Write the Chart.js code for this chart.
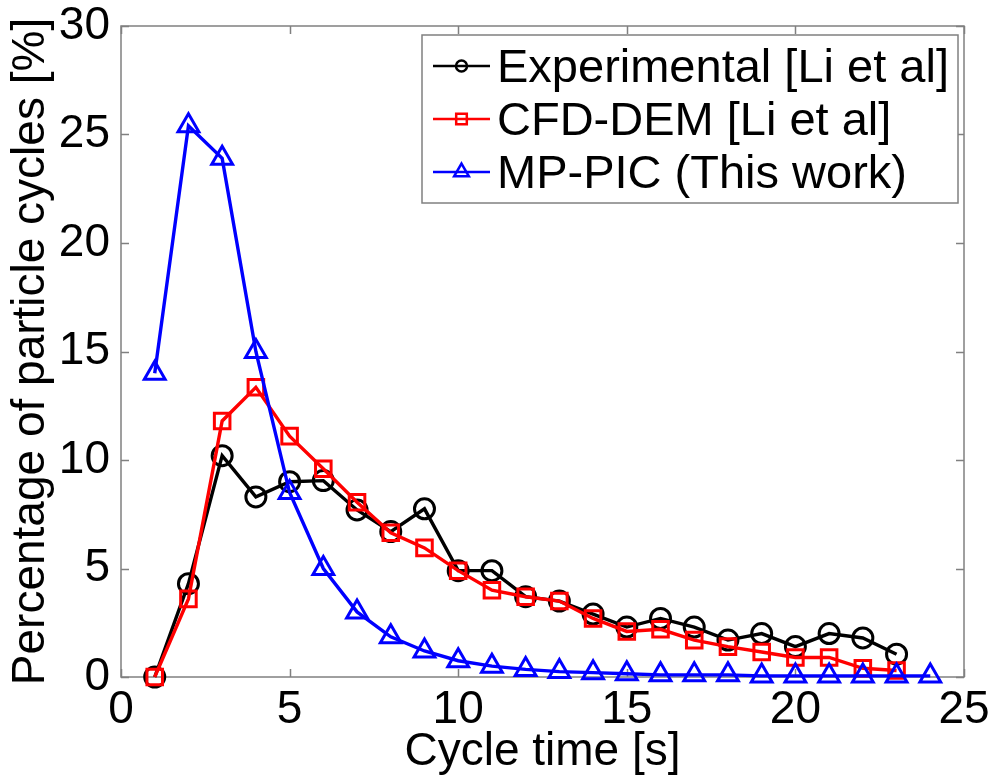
<!DOCTYPE html>
<html>
<head>
<meta charset="utf-8">
<script src="https://cdn.jsdelivr.net/npm/chart.js@4/dist/chart.umd.min.js"></script>
<style>
  html, body { margin: 0; padding: 0; background: #fff; }
  canvas { display: block; }
</style>
</head>
<body>
<canvas id="c" width="992" height="780"></canvas>
<script>
// ---- Data ----
const cycleTimes = [1,2,3,4,5,6,7,8,9,10,11,12,13,14,15,16,17,18,19,20,21,22,23];
const cycleTimesMP = [1,2,3,4,5,6,7,8,9,10,11,12,13,14,15,16,17,18,19,20,21,22,23,24];
const experimental = [0, 4.3, 10.2, 8.3, 9.0, 9.05, 7.7, 6.7, 7.75, 4.9, 4.9, 3.7, 3.5, 2.9, 2.3, 2.7, 2.3, 1.7, 2.0, 1.4, 2.0, 1.8, 1.05];
const cfdDem = [0, 3.6, 11.8, 13.35, 11.1, 9.6, 8.05, 6.65, 5.95, 4.9, 4.0, 3.7, 3.5, 2.7, 2.1, 2.2, 1.7, 1.4, 1.15, 0.9, 0.9, 0.4, 0.3];
const mpPic = [14.0, 25.4, 23.9, 15.0, 8.5, 5.0, 3.0, 1.85, 1.2, 0.75, 0.5, 0.35, 0.25, 0.2, 0.15, 0.1, 0.1, 0.1, 0.05, 0.05, 0.05, 0.05, 0.05, 0.05];
const seriesNames = ['Experimental [Li et al]', 'CFD-DEM [Li et al]', 'MP-PIC (This work)'];
const xTickValues = [0, 5, 10, 15, 20, 25];
const yTickValues = [0, 5, 10, 15, 20, 25, 30];
const xTitle = 'Cycle time [s]';
const yTitle = 'Percentage of particle cycles [%]';

const FONT = '"Liberation Sans", Arial, Helvetica, sans-serif';
const AXIS_GRAY = '#808080';

function toPoints(xs, ys) { return xs.map((x, i) => ({ x: x, y: ys[i] })); }

const boxPlugin = {
  id: 'boxTicks',
  beforeDatasetsDraw(chart) {
    const { ctx, chartArea: a, scales } = chart;
    const xs = scales.x, ys = scales.y;
    ctx.save();
    ctx.strokeStyle = AXIS_GRAY;
    ctx.lineWidth = 1.5;
    ctx.strokeRect(a.left, a.top, a.right - a.left, a.bottom - a.top);
    const L = 8;
    ctx.beginPath();
    xs.ticks.forEach(t => {
      const px = Math.round(xs.getPixelForValue(t.value)) + 0.5;
      ctx.moveTo(px, a.bottom); ctx.lineTo(px, a.bottom - L);
      ctx.moveTo(px, a.top); ctx.lineTo(px, a.top + L);
    });
    ys.ticks.forEach(t => {
      const py = Math.round(ys.getPixelForValue(t.value)) + 0.5;
      ctx.moveTo(a.left, py); ctx.lineTo(a.left + L, py);
      ctx.moveTo(a.right, py); ctx.lineTo(a.right - L, py);
    });
    ctx.stroke();
    ctx.restore();
  }
};

const legendPlugin = {
  id: 'insideLegend',
  afterDatasetsDraw(chart) {
    const { ctx } = chart;
    const bx = 422, by = 35, bw = 536, bh = 168;
    ctx.save();
    ctx.fillStyle = '#fff';
    ctx.fillRect(bx, by, bw, bh);
    ctx.strokeStyle = AXIS_GRAY;
    ctx.lineWidth = 1.5;
    ctx.strokeRect(bx, by, bw, bh);
    const rowY = [66, 119, 172];
    const legendRadius = [5.5, 7.5, 8.5];
    chart.data.datasets.forEach((ds, i) => {
      const y = rowY[i];
      ctx.strokeStyle = ds.borderColor;
      ctx.lineWidth = 2.5;
      ctx.beginPath();
      ctx.moveTo(433, y); ctx.lineTo(490, y);
      ctx.stroke();
      ctx.fillStyle = 'rgba(0,0,0,0)';
      ctx.lineWidth = 2.5;
      Chart.helpers.drawPoint(ctx, { pointStyle: ds.pointStyle, radius: legendRadius[i], rotation: 0, borderWidth: 2.5 }, 461.5, y);
      ctx.fillStyle = '#000';
      ctx.font = '47px ' + FONT;
      ctx.textBaseline = 'middle';
      ctx.textAlign = 'left';
      ctx.fillText(ds.label, 497, y + 3);
    });
    ctx.restore();
  }
};

const mk = (label, xs, ys, color, style, radius, order) => ({
  label: label,
  data: toPoints(xs, ys),
  borderColor: color,
  backgroundColor: 'rgba(0,0,0,0)',
  pointBorderColor: color,
  pointBackgroundColor: 'rgba(0,0,0,0)',
  pointStyle: style,
  pointRadius: radius,
  pointHoverRadius: radius,
  pointBorderWidth: 3,
  borderWidth: 3.4,
  tension: 0,
  clip: false,
  order: order
});

new Chart(document.getElementById('c'), {
  type: 'line',
  data: {
    datasets: [
      mk(seriesNames[0], cycleTimes, experimental, '#000000', 'circle', 10, 3),
      mk(seriesNames[1], cycleTimes, cfdDem, '#ff0000', 'rect', 11, 2),
      mk(seriesNames[2], cycleTimesMP, mpPic, '#0000ff', 'triangle', 12, 1)
    ]
  },
  options: {
    responsive: false,
    animation: false,
    events: [],
    layout: { padding: { top: 26, right: 28, left: 0, bottom: 0 } },
    plugins: { legend: { display: false }, tooltip: { enabled: false } },
    scales: {
      x: {
        type: 'linear',
        min: 0, max: 25,
        afterBuildTicks(scale) { scale.ticks = xTickValues.map(v => ({ value: v })); },
        afterFit(scale) { scale.height = 103; scale.paddingLeft = 0; scale.paddingRight = 0; },
        grid: { display: false, drawTicks: false },
        border: { display: false },
        ticks: { color: '#000', font: { family: FONT, size: 46 }, padding: 6, maxRotation: 0, autoSkip: false },
        title: { display: true, text: xTitle, color: '#000', font: { family: FONT, size: 46 }, padding: { top: 0, bottom: 0 } }
      },
      y: {
        type: 'linear',
        min: 0, max: 30,
        afterBuildTicks(scale) { scale.ticks = yTickValues.map(v => ({ value: v })); },
        afterFit(scale) { scale.width = 121; scale.paddingTop = 0; scale.paddingBottom = 0; },
        grid: { display: false, drawTicks: false },
        border: { display: false },
        ticks: { color: '#000', font: { family: FONT, size: 46 }, padding: 11, autoSkip: false },
        title: { display: true, text: yTitle, color: '#000', font: { family: FONT, size: 46 }, padding: { top: 4, bottom: 0 } }
      }
    }
  },
  plugins: [boxPlugin, legendPlugin]
});
</script>
</body>
</html>
